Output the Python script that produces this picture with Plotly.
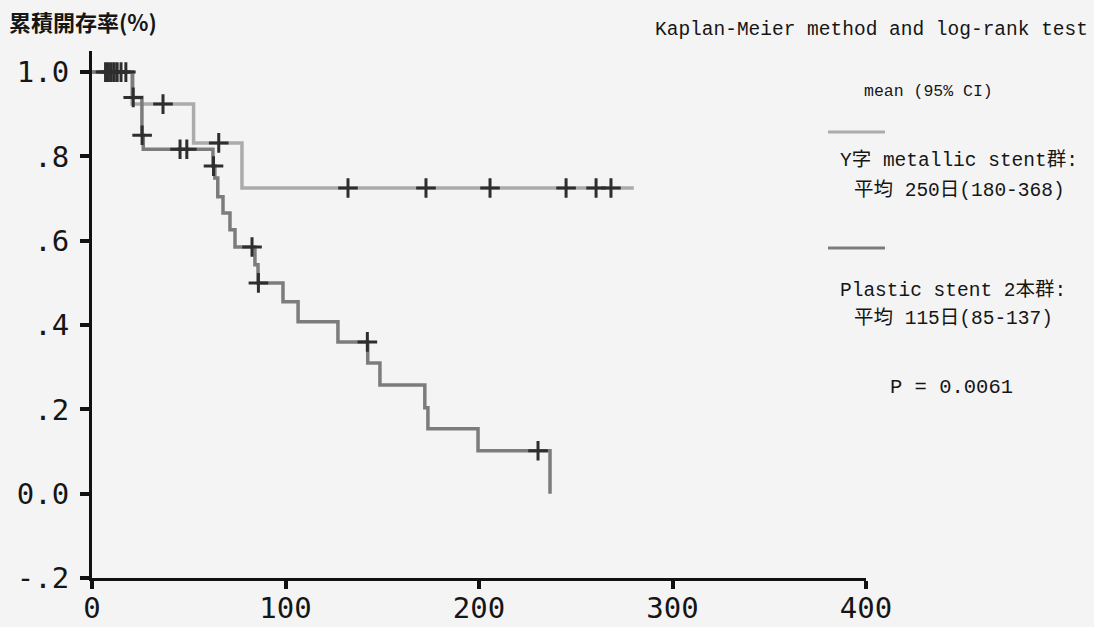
import plotly.graph_objects as go

# ---- data ----
# Y字 metallic stent群 (upper, light grey curve)
metal_t = [0, 20.7, 52.5, 77.5, 280]
metal_s = [1.0, 0.924, 0.832, 0.725, 0.725]
metal_cens_t = [7, 10, 13, 36.7, 65.5, 132.3, 172.6, 205.7, 245.0, 260.5, 268.2]
metal_cens_s = [1.0, 1.0, 1.0, 0.924, 0.832, 0.725, 0.725, 0.725, 0.725, 0.725, 0.725]

# Plastic stent 2本群 (lower, darker curve)
plast_t = [0, 21.0, 25.8, 26.5, 62.5, 63.5, 65.0, 67.7, 71.3, 73.9, 84.2, 85.8,
           98.7, 106.5, 127.1, 142.5, 148.8, 172.0, 173.6, 199.5, 236.7]
plast_s = [1.0, 0.94, 0.85, 0.817, 0.777, 0.749, 0.704, 0.666, 0.626, 0.585, 0.543, 0.5,
           0.455, 0.408, 0.36, 0.31, 0.258, 0.204, 0.154, 0.102, 0.0]
plast_cens_t = [8.5, 11.5, 15, 17.5, 21.3, 25.9, 45.5, 49.0, 62.8, 82.7, 86.0, 142.3, 230.5]
plast_cens_s = [1.0, 1.0, 1.0, 1.0, 0.94, 0.85, 0.817, 0.817, 0.777, 0.585, 0.5, 0.36, 0.102]

x_ticks = [0, 100, 200, 300, 400]
x_ticktext = ["0", "100", "200", "300", "400"]
y_ticks = [-0.2, 0.0, 0.2, 0.4, 0.6, 0.8, 1.0]
y_ticktext = ["-.2", "0.0", ".2", ".4", ".6", ".8", "1.0"]

METAL_C = "#ababab"
PLAST_C = "#7c7c7c"
CENS_C = "#2e2e2e"
TXT = "#161616"
BG = "#f4f4f4"

fig = go.Figure()
fig.add_trace(go.Scatter(x=metal_t, y=metal_s, mode="lines", line_shape="hv",
                         line=dict(color=METAL_C, width=3.5), showlegend=False))
fig.add_trace(go.Scatter(x=plast_t, y=plast_s, mode="lines", line_shape="hv",
                         line=dict(color=PLAST_C, width=3.5), showlegend=False))
fig.add_trace(go.Scatter(x=metal_cens_t, y=metal_cens_s, mode="markers",
                         marker=dict(symbol="cross-thin", size=14,
                                     line=dict(color=CENS_C, width=3)),
                         showlegend=False))
fig.add_trace(go.Scatter(x=plast_cens_t, y=plast_cens_s, mode="markers",
                         marker=dict(symbol="cross-thin", size=14,
                                     line=dict(color=CENS_C, width=3)),
                         showlegend=False))

L, R, T, B = 92, 228, 51, 49
W, H = 1094, 627
pw, ph = W - L - R, H - T - B

def px(x):
    return (x - L) / pw

def py(y):
    return (H - B - y) / ph

mono = "Liberation Mono, Noto Sans CJK JP, monospace"
ann = []
ann.append(dict(text="<b>累積開存率(%)</b>", x=px(7), y=py(21), xanchor="left", yanchor="middle",
                font=dict(family="Noto Sans CJK JP", size=22, color=TXT)))
ann.append(dict(text="Kaplan-Meier method and log-rank test", x=px(1090), y=py(30),
                xanchor="right", yanchor="middle", font=dict(family=mono, size=19.5, color=TXT)))
ann.append(dict(text="mean (95% CI)", x=px(862), y=py(92), xanchor="left", yanchor="middle",
                font=dict(family=mono, size=16.5, color=TXT)))
ann.append(dict(text="Y字 metallic stent群:", x=px(838), y=py(160), xanchor="left", yanchor="middle",
                font=dict(family=mono, size=19.5, color=TXT)))
ann.append(dict(text="平均 250日(180-368)", x=px(852), y=py(190), xanchor="left", yanchor="middle",
                font=dict(family=mono, size=19.5, color=TXT)))
ann.append(dict(text="Plastic stent 2本群:", x=px(838), y=py(290), xanchor="left", yanchor="middle",
                font=dict(family=mono, size=19.5, color=TXT)))
ann.append(dict(text="平均 115日(85-137)", x=px(852), y=py(318), xanchor="left", yanchor="middle",
                font=dict(family=mono, size=19.5, color=TXT)))
ann.append(dict(text="P = 0.0061", x=px(888), y=py(387), xanchor="left", yanchor="middle",
                font=dict(family=mono, size=20.5, color=TXT)))
for a in ann:
    a.update(xref="paper", yref="paper", showarrow=False)

shapes = [
    dict(type="line", xref="paper", yref="paper", x0=px(828), x1=px(885), y0=py(132), y1=py(132),
         line=dict(color=METAL_C, width=3)),
    dict(type="line", xref="paper", yref="paper", x0=px(828), x1=px(885), y0=py(248), y1=py(248),
         line=dict(color=PLAST_C, width=3)),
]

tickfont = dict(family="DejaVu Sans Mono", size=29, color=TXT)
fig.update_layout(
    width=W, height=H,
    margin=dict(l=L, r=R, t=T, b=B, autoexpand=False),
    paper_bgcolor=BG, plot_bgcolor=BG,
    annotations=ann, shapes=shapes,
    xaxis=dict(range=[0, 400], tickvals=x_ticks, ticktext=x_ticktext, showgrid=False,
               zeroline=False, showline=True, linecolor="#111", linewidth=3,
               ticks="outside", ticklen=8, tickwidth=4, tickcolor="#111",
               tickfont=tickfont, ticklabelstandoff=-6, fixedrange=True),
    yaxis=dict(range=[-0.2, 1.05], tickvals=y_ticks, ticktext=y_ticktext, showgrid=False,
               zeroline=False, showline=True, linecolor="#111", linewidth=3,
               ticks="outside", ticklen=9, tickwidth=4, tickcolor="#111",
               tickfont=tickfont, ticklabelstandoff=5, fixedrange=True),
)

fig.write_html("out.html")
